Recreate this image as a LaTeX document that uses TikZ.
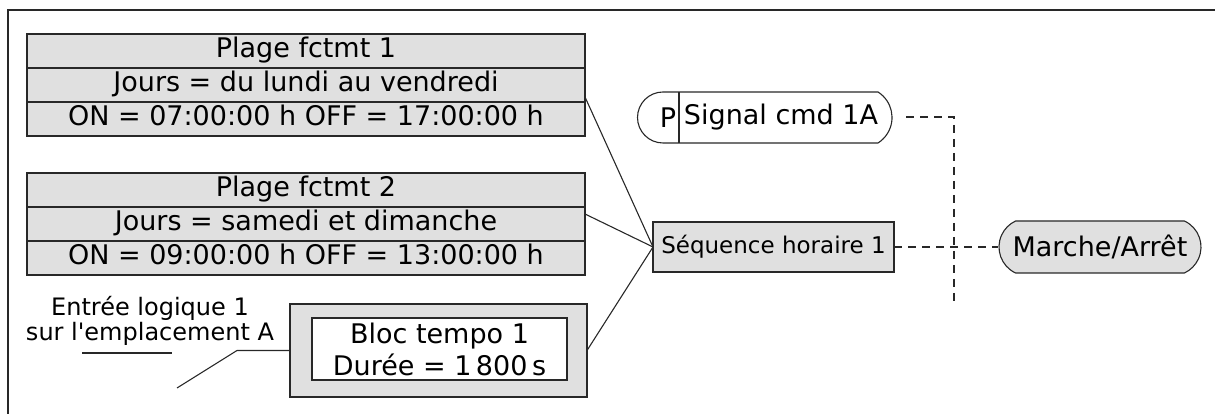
\documentclass[tikz,border=0pt]{standalone}
\usepackage{fontspec}
\setmainfont{DejaVu Sans}
\usetikzlibrary{shapes.misc,positioning,calc}
\definecolor{boxgray}{RGB}{224,224,224}
\definecolor{linegray}{RGB}{40,40,40}

\begin{document}
\begin{tikzpicture}[x=1pt, y=1pt, draw=linegray,
  row/.style={rectangle, draw, line width=1.1pt, fill=boxgray, minimum width=558pt, minimum height=34pt,
    inner sep=0pt, outer sep=0pt, text height=19pt, text depth=5pt, font=\fontsize{27}{30}\selectfont},
  box/.style={rectangle, draw, line width=1.1pt, fill=boxgray, inner sep=0pt, outer sep=0pt, align=center},
  pill/.style={rounded rectangle, rounded rectangle arc length=130, draw, line width=1.1pt, fill=boxgray,
    minimum width=202pt, minimum height=52pt, inner sep=0pt, font=\fontsize{27}{30}\selectfont},
  link/.style={line width=1.1pt},
  dashline/.style={line width=1.1pt, dash pattern=on 8pt off 6pt}
]
  \useasboundingbox (0,0) rectangle (1215,414);
  % frame
  \draw[line width=1.1pt] (8,0) -- (8,404) -- (1215,404);

  % time ranges
  \node[row] (p1a) at (306,363) {Plage fctmt 1};
  \node[row, below=0pt of p1a] (p1b) {Jours = du lundi au vendredi};
  \node[row, below=0pt of p1b] (p1c) {ON = 07:00:00 h OFF = 17:00:00 h};
  \node[row] (p2a) at (306,224) {Plage fctmt 2};
  \node[row, below=0pt of p2a] (p2b) {Jours = samedi et dimanche};
  \node[row, below=0pt of p2b] (p2c) {ON = 09:00:00 h OFF = 13:00:00 h};

  % timer
  \node[box, minimum width=297pt, minimum height=93pt] (bloc) at (438.5,63.5) {};
  \node[box, fill=white, minimum width=255pt, minimum height=62pt,
    font=\fontsize{27}{32}\selectfont] (tempo) at (439.5,65) {Bloc tempo 1\\Durée = 1\,800\,s};
  \node[align=center, inner sep=0pt, font=\fontsize{24}{25}\selectfont] (din) at (150,93.5)
    {Entrée logique 1\\sur l\textquotesingle emplacement A};
  \coordinate (dinknee) at (237,63.5);
  \coordinate (dinend) at (177,26);
  \draw[link] (82,61) -- (172,61);
  \draw[link] (dinend) -- (dinknee) -- (bloc.west);

  % time channel
  \node[box, minimum width=241pt, minimum height=50pt, font=\fontsize{23}{26}\selectfont] (seq) at (773.5,167)
    {Séquence horaire 1};
  \draw[link] ([yshift=-12pt]p1b.east) -- (seq.west);
  \draw[link] ([yshift=10pt]p2b.east) -- (seq.west);
  \draw[link] (bloc.east) -- (seq.west);

  % control signal
  \draw[link] (663,322) -- (878,322) arc[start angle=57.6, end angle=-57.6, radius=30.2]
    -- (663,271) arc[start angle=270, end angle=90, radius=25.5];
  \draw[link] (679,322) -- (679,271);
  \node[font=\fontsize{27}{30}\selectfont, inner sep=0pt] (sigp) at (668,296.5) {P};
  \node[font=\fontsize{27}{30}\selectfont, inner sep=0pt] (sig) at (781,296.5) {Signal cmd 1A};
  \node[pill] (run) at (1100,167) {Marche/Arrêt};

  \coordinate (bustop) at (954,297);
  \coordinate (busbot) at (954,111);
  \draw[dashline] (906,297) -- (bustop) -- (busbot);
  \draw[dashline] (seq.east) -- (run.west);
\end{tikzpicture}
\end{document}
